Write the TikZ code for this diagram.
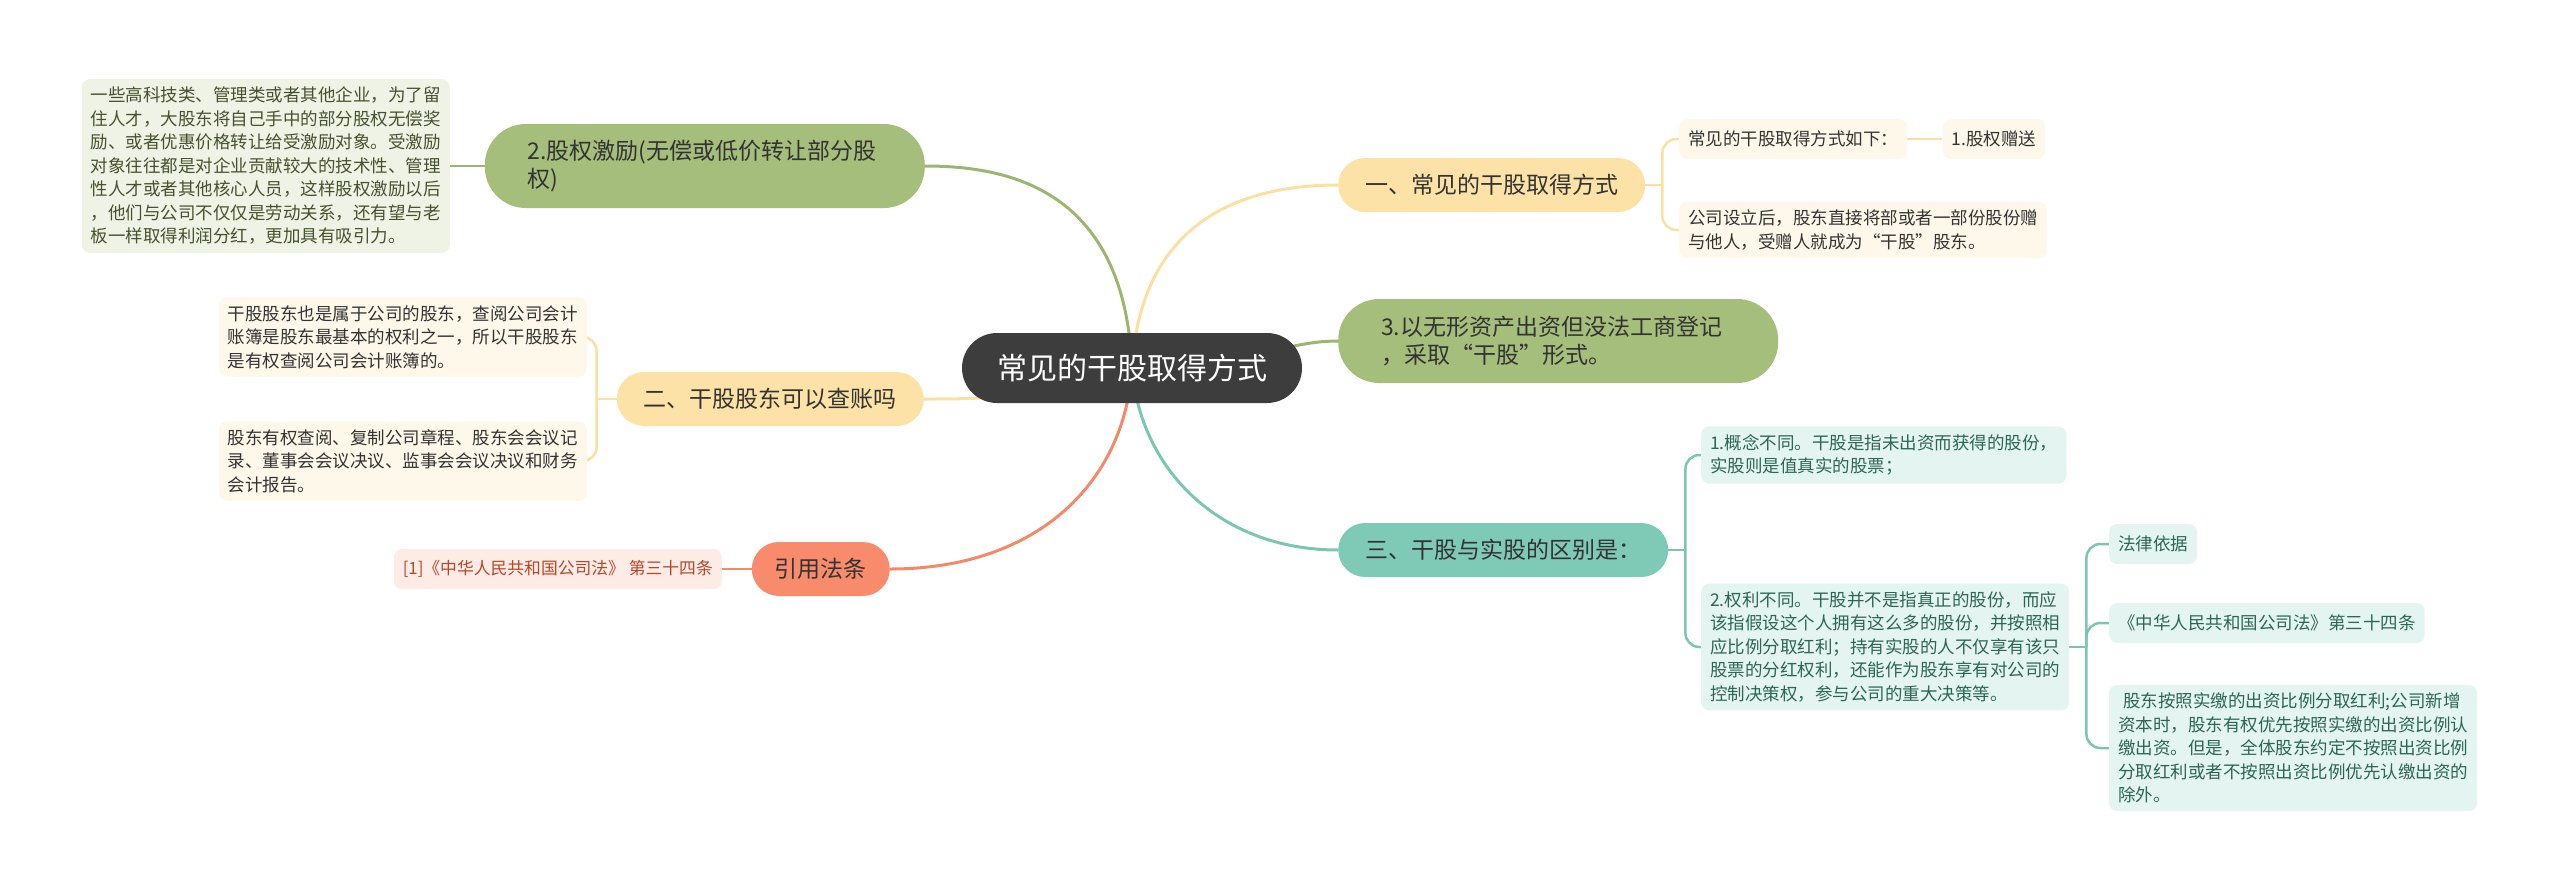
\documentclass[tikz,border=0pt]{standalone}
\usepackage{fontspec}
\usepackage{tikz}
\usetikzlibrary{positioning, backgrounds}
\newfontfamily\cjk{Noto Sans CJK SC}
\definecolor{rootgray}{HTML}{3D3D3D}
\definecolor{textdark}{HTML}{333333}
\definecolor{ylwfill}{HTML}{FCE2A6}
\definecolor{ylwline}{HTML}{FBE0A3}
\definecolor{ylwleaf}{HTML}{FEF8EA}
\definecolor{grnfill}{HTML}{A6BE7B}
\definecolor{grnline}{HTML}{9DB571}
\definecolor{grnleaf}{HTML}{EFF3E6}
\definecolor{grntext}{HTML}{46512F}
\definecolor{tealfill}{HTML}{7FC9B7}
\definecolor{tealline}{HTML}{7CC5B3}
\definecolor{tealleaf}{HTML}{E4F4F0}
\definecolor{tealtext}{HTML}{2C6656}
\definecolor{salfill}{HTML}{F88B6B}
\definecolor{salline}{HTML}{F4896A}
\definecolor{salleaf}{HTML}{FDECE6}
\definecolor{saltext}{HTML}{B4472A}

\begin{document}
\begin{tikzpicture}[
  x=1pt, y=-1pt,
  root/.style={rectangle, rounded corners=35pt, fill=rootgray, text=white, minimum height=70pt, inner xsep=35pt, font=\cjk\fontsize{30}{36}\selectfont},
  branch/.style={rectangle, rounded corners=27pt, minimum height=54pt, inner xsep=27pt, text=textdark, font=\cjk\fontsize{23}{28.5}\selectfont, fill=#1},
  twoline/.style={rounded corners=41pt, minimum height=84pt, align=left, inner xsep=43pt},
  leaf/.style={rectangle, rounded corners=8pt, minimum height=40pt, inner xsep=9pt, inner ysep=8pt, align=left, font=\cjk\fontsize{17.5}{23.5}\selectfont, fill=#1},
  link/.style={line width=3pt, draw=#1},
  bracket/.style={line width=2.5pt, draw=#1, rounded corners=14pt},
]
\useasboundingbox (0,0) rectangle (2560,892);

% centre
\node[root] (root) at (1132,368) {常见的干股取得方式};

% right side
\node[branch=ylwfill, anchor=west] (qude) at (1338,185) {一、常见的干股取得方式};
\node[branch=grnfill, twoline, text width=354pt, anchor=west] (wuxing) at (1338,341) {3.以无形资产出资但没法工商登记\\，采取“干股”形式。};
\node[branch=tealfill, anchor=west] (qubie) at (1338,550) {三、干股与实股的区别是：};

\node[leaf=ylwleaf, text=textdark, anchor=west] (ruxia) at (1679,139) {常见的干股取得方式如下：};
\node[leaf=ylwleaf, text=textdark, right=35pt of ruxia] (zengsong) {1.股权赠送};
\node[leaf=ylwleaf, text=textdark, anchor=west] (sheli) at (1679,230) {公司设立后，股东直接将部或者一部份股份赠\\与他人，受赠人就成为“干股”股东。};

\node[leaf=tealleaf, text=tealtext, anchor=west] (gainian) at (1701,455) {1.概念不同。干股是指未出资而获得的股份，\\实股则是值真实的股票；};
\node[leaf=tealleaf, text=tealtext, anchor=west] (quanli) at (1701,647) {2.权利不同。干股并不是指真正的股份，而应\\该指假设这个人拥有这么多的股份，并按照相\\应比例分取红利；持有实股的人不仅享有该只\\股票的分红权利，还能作为股东享有对公司的\\控制决策权，参与公司的重大决策等。};

\node[leaf=tealleaf, text=tealtext, anchor=west] (yiju) at (2109,544) {法律依据};
\node[leaf=tealleaf, text=tealtext, anchor=west] (fatiao) at (2109,623) {《中华人民共和国公司法》第三十四条};
\node[leaf=tealleaf, text=tealtext, anchor=west] (hongli) at (2109,748) {\hspace{5pt}股东按照实缴的出资比例分取红利;公司新增\\资本时，股东有权优先按照实缴的出资比例认\\缴出资。但是，全体股东约定不按照出资比例\\分取红利或者不按照出资比例优先认缴出资的\\除外。};

% left side
\node[branch=grnfill, twoline, text width=354pt, anchor=east] (jili) at (925,166) {2.股权激励(无偿或低价转让部分股\\权)};
\node[leaf=grnleaf, text=grntext, anchor=east] (rencai) at (450,166) {一些高科技类、管理类或者其他企业，为了留\\住人才，大股东将自己手中的部分股权无偿奖\\励、或者优惠价格转让给受激励对象。受激励\\对象往往都是对企业贡献较大的技术性、管理\\性人才或者其他核心人员，这样股权激励以后\\，他们与公司不仅仅是劳动关系，还有望与老\\板一样取得利润分红，更加具有吸引力。};

\node[branch=ylwfill, anchor=east] (chazhang) at (924,399) {二、干股股东可以查账吗};
\node[leaf=ylwleaf, text=textdark, anchor=east] (gudong) at (587,337) {干股股东也是属于公司的股东，查阅公司会计\\账簿是股东最基本的权利之一，所以干股股东\\是有权查阅公司会计账簿的。};
\node[leaf=ylwleaf, text=textdark, anchor=east] (zhangcheng) at (587,461) {股东有权查阅、复制公司章程、股东会会议记\\录、董事会会议决议、监事会会议决议和财务\\会计报告。};

\node[branch=salfill, inner xsep=23pt, anchor=east] (yinyong) at (890,569) {引用法条};
\node[leaf=salleaf, text=saltext, font=\cjk\fontsize{16.8}{23.5}\selectfont, anchor=east] (gongsifa) at (722,569) {[1]《中华人民共和国公司法》 第三十四条};

\begin{scope}[on background layer]
\draw[link=grnline] (root.center) .. controls (1125,190) and (1010,166) .. (jili.east);
\draw[link=ylwline] (root.center) .. controls (1140,230) and (1230,185) .. (qude.west);
\draw[link=grnline] (root.center) .. controls (1250,368) and (1280,341) .. (wuxing.west);
\draw[link=ylwline] (root.center) .. controls (1040,399) and (980,399) .. (chazhang.east);
\draw[link=salline] (root.center) .. controls (1125,480) and (1040,569) .. (yinyong.east);
\draw[link=tealline] (root.center) .. controls (1140,470) and (1220,550) .. (qubie.west);

\draw[bracket=ylwline] (qude.east) -- ++(17,0) coordinate (jqude);
\draw[bracket=ylwline] (jqude) |- (ruxia.west);
\draw[bracket=ylwline] (jqude) |- (sheli.west);
\draw[bracket=ylwline] (ruxia.east) -- (zengsong.west);

\draw[bracket=tealline] (qubie.east) -- ++(17,0) coordinate (jqubie);
\draw[bracket=tealline] (jqubie) |- (gainian.west);
\draw[bracket=tealline] (jqubie) |- (quanli.west);
\draw[bracket=tealline] (quanli.east) -- ++(17,0) coordinate (jquanli);
\draw[bracket=tealline] (jquanli) |- (yiju.west);
\draw[bracket=tealline] (jquanli) |- (fatiao.west);
\draw[bracket=tealline] (jquanli) |- (hongli.west);

\draw[bracket=grnline] (jili.west) -- (rencai.east);
\draw[bracket=ylwline] (chazhang.west) -- ++(-20,0) coordinate (jchazhang);
\draw[bracket=ylwline] (jchazhang) |- (gudong.east);
\draw[bracket=ylwline] (jchazhang) |- (zhangcheng.east);
\draw[bracket=salline] (yinyong.west) -- (gongsifa.east);
\end{scope}
\end{tikzpicture}
\end{document}
